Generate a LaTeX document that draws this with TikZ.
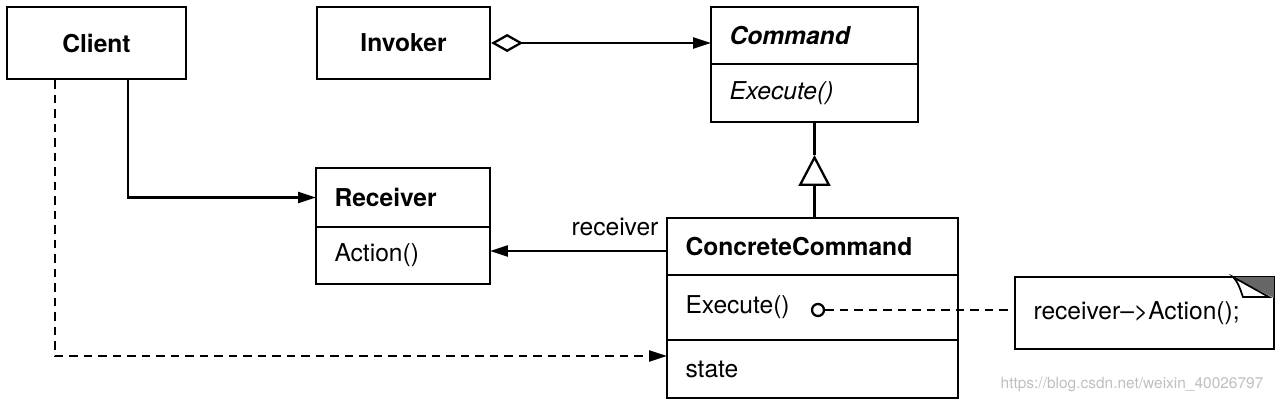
\documentclass[tikz,border=0pt]{standalone}
\usepackage{fontspec}
\setmainfont{TeX Gyre Heros}
\usetikzlibrary{arrows.meta}

\begin{document}
\begin{tikzpicture}[
		x=0.02cm, y=-0.02cm,
		>={Triangle[length=3.6mm, width=2.2mm]},
		class_box/.style={draw, line width=1.3pt, inner xsep=0.37cm, inner ysep=0pt, outer sep=0pt, font=\fontsize{14}{16}\selectfont, align=left},
		name_box/.style={draw, line width=1.3pt, minimum width=3.58cm, minimum height=1.44cm, font=\fontsize{14}{16}\selectfont\bfseries},
		link/.style={line width=1.3pt},
		dashed_link/.style={line width=1.4pt, dash pattern=on 0.17cm off 0.12cm},
		label_text/.style={font=\fontsize{14}{16}\selectfont, inner sep=2pt}
		]
		\useasboundingbox (0,0) rectangle (1280,406);
		
		% Client and invoker (top row)
		\node[name_box] (client) at (96.5, 43) {Client};
		\node[name_box, minimum width=3.46cm] (invoker) at (403.5, 43) {Invoker};
		
		% Command interface
		\node[class_box, text width=3.40cm, minimum height=1.14cm] (cmd_head) at (814.5, 35.5) {\bfseries\itshape Command};
		\node[class_box, text width=3.40cm, minimum height=1.16cm, anchor=north] (cmd_ops) at (cmd_head.south) {\itshape Execute()};
		
		% Receiver
		\node[class_box, text width=2.74cm, minimum height=1.18cm] (rcv_head) at (403, 197.5) {\bfseries Receiver};
		\node[class_box, text width=2.74cm, minimum height=1.14cm, anchor=north] (rcv_ops) at (rcv_head.south) {Action()};
		
		% Concrete command
		\node[class_box, text width=5.08cm, minimum height=1.14cm] (cc_head) at (812.5, 246.5) {\bfseries ConcreteCommand};
		\node[class_box, text width=5.08cm, minimum height=1.30cm, anchor=north] (cc_ops) at (cc_head.south) {Execute()};
		\node[class_box, text width=5.08cm, minimum height=1.16cm, anchor=north] (cc_state) at (cc_ops.south) {state};
		
		% Note with folded corner
		\node[class_box, text width=4.44cm, minimum height=1.44cm] (note) at (1144.5, 313) {receiver--{}>Action();};
		\fill[black!60] ([xshift=-0.82cm]note.north east) -- (note.north east) -- ([yshift=-0.42cm]note.north east) -- cycle;
		\filldraw[fill=white, line width=1pt] ([xshift=-0.82cm]note.north east) .. controls ([xshift=-0.70cm, yshift=-0.12cm]note.north east) and ([xshift=-0.66cm, yshift=-0.30cm]note.north east) .. ([xshift=-0.62cm, yshift=-0.40cm]note.north east) -- ([xshift=-0.10cm, yshift=-0.40cm]note.north east) -- cycle;
		
		% Execute hook
		\node[circle, draw, line width=1.3pt, minimum size=0.24cm, inner sep=0pt] (exec_hook) at (818, 310) {};
		\coordinate (gen_tip) at (814.5, 155);
		
		% Invoker aggregates command
		\draw[link, {Diamond[open, length=0.64cm, width=0.36cm]}->] (invoker.east) -- (invoker.east -| cmd_head.west);
		
		% Inheritance
		\draw[link, -{Triangle[open, length=0.62cm, width=0.64cm]}] (cc_head.north -| gen_tip) -- (gen_tip);
		\draw[link] (gen_tip) -- (cmd_ops.south);
		
		% Client to receiver and concrete command
		\draw[link, ->] ([xshift=0.63cm]client.south) |- (rcv_head.west);
		\draw[dashed_link, ->] ([xshift=-0.83cm]client.south) |- ([yshift=0.26cm]cc_state.west);
		
		% Concrete command to receiver
		\draw[link, ->] ([yshift=-0.09cm]cc_head.west) -- node[pos=0, anchor=south east, label_text, xshift=-0.08cm, yshift=0.2cm] {receiver} ([yshift=-0.09cm]cc_head.west -| rcv_ops.east);
		
		% Execute to note
		\draw[dashed_link] (exec_hook) -- (exec_hook -| note.west);
		
		\node[text=black!25, font=\fontsize{8.8}{10}\selectfont] (mark) at (1132, 385) {https://blog.csdn.net/weixin\_40026797};
		
	\end{tikzpicture}
\end{document}
